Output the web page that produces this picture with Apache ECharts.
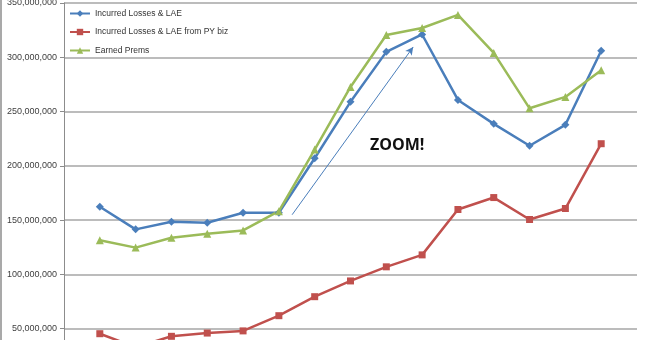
<!DOCTYPE html>
<html>
<head>
<meta charset="utf-8">
<script src="https://cdn.jsdelivr.net/npm/echarts@6/dist/echarts.min.js"></script>
<style>html,body{margin:0;padding:0;background:#fff;}#c{width:653px;height:340px;}</style>
</head>
<body>
<div id="c"></div>
<script>
var periods = [1,2,3,4,5,6,7,8,9,10,11,12,13,14,15];
var incurred = [162.3e6,141.5e6,148.5e6,147.6e6,156.8e6,156.8e6,207e6,259e6,305e6,321e6,260.7e6,238.7e6,218.5e6,237.8e6,306e6];
var incurredPY = [45.4e6,33e6,43e6,46e6,48e6,62e6,79.5e6,94e6,107e6,118e6,159.8e6,170.8e6,150.6e6,160.7e6,220.4e6];
var earned = [131.4e6,124.7e6,133.8e6,137.5e6,140.5e6,158.3e6,215e6,272.7e6,320.6e6,327e6,339e6,304e6,253e6,263.5e6,288e6];
var seriesNames = ['Incurred Losses & LAE','Incurred Losses & LAE from PY biz','Earned Prems'];
var yTicks = {min:0, max:350e6, step:50e6};

function pairs(vals){ return vals.map(function(v,i){ return [periods[i], v]; }); }
function fmt(v){ return String(Math.round(v)).replace(/\B(?=(\d{3})+(?!\d))/g, ','); }

var chart = echarts.init(document.getElementById('c'), null, {renderer:'canvas'});
var font = 'Liberation Sans';
chart.setOption({
  animation:false,
  backgroundColor:'#ffffff',
  grid:{left:64, right:16, top:3, height:380, containLabel:false, outerBoundsMode:'none'},
  xAxis:{type:'value', min:0, max:16, show:false, splitLine:{show:false}},
  yAxis:{type:'value', min:yTicks.min, max:yTicks.max, interval:yTicks.step,
    axisLine:{show:true, lineStyle:{color:'#8c8c8c', width:1}},
    axisTick:{show:true, length:4, lineStyle:{color:'#8c8c8c'}},
    axisLabel:{formatter:fmt, color:'#404040', fontFamily:font, fontSize:9, margin:7},
    splitLine:{show:true, lineStyle:{color:'#a6a6a6', width:1.5}}
  },
  legend:{orient:'vertical', left:67, top:7, itemWidth:20, itemHeight:8, itemGap:9.5,
    padding:[2,4,2,2],
    textStyle:{fontFamily:font, fontSize:8.5, color:'#333'},
    data:seriesNames},
  graphic:[
    {type:'line', shape:{x1:1, y1:0, x2:1, y2:340}, style:{stroke:'#8c8c8c', lineWidth:1.5}, silent:true},
    {type:'text', left:370, top:137, style:{text:'ZOOM!', font:'bold 16px "Open Sans"', fill:'#111'}}
  ],
  series:[
    {name:seriesNames[0], type:'line', data:pairs(incurred), color:'#4a7ebb',
      lineStyle:{width:2.5}, symbol:'diamond', symbolSize:8, showAllSymbol:true,
      markLine:{silent:true, symbol:['none','arrow'], symbolSize:[6,8],
        lineStyle:{color:'#4a7ebb', width:1, type:'solid'}, label:{show:false},
        data:[[{coord:[6.37,155e6]},{coord:[9.75,309.5e6]}]]}},
    {name:seriesNames[1], type:'line', data:pairs(incurredPY), color:'#c0504d',
      lineStyle:{width:2.5}, symbol:'rect', symbolSize:7, showAllSymbol:true},
    {name:seriesNames[2], type:'line', data:pairs(earned), color:'#9bbb59',
      lineStyle:{width:2.5}, symbol:'triangle', symbolSize:8, showAllSymbol:true}
  ]
});
</script>
</body>
</html>
